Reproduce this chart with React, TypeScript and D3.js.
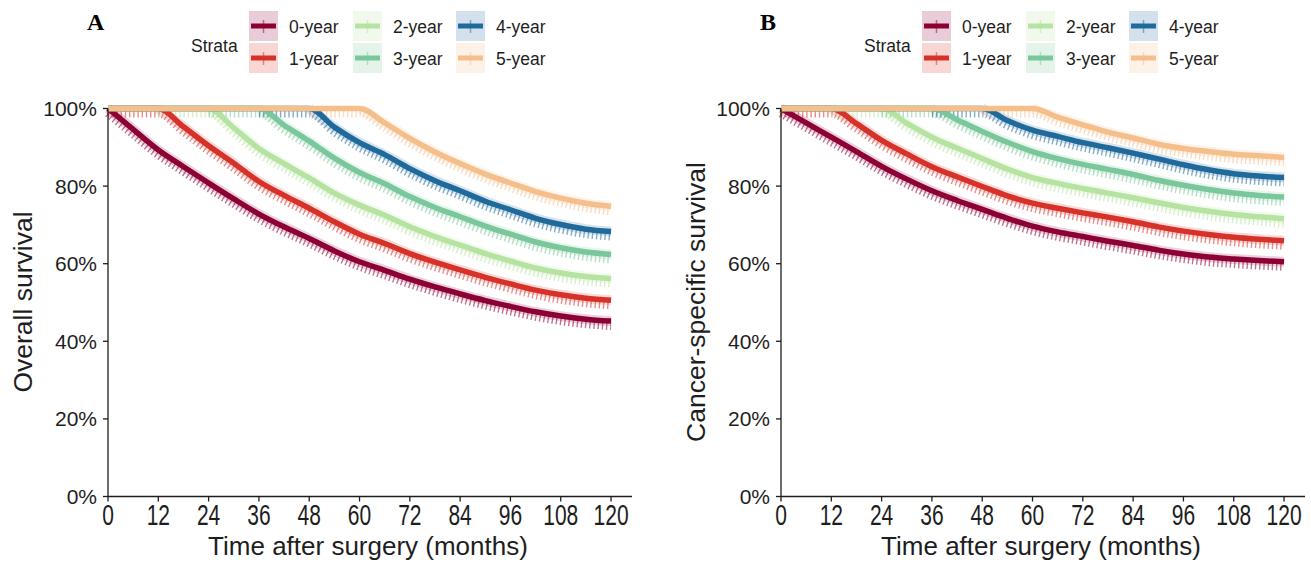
import React from "react";
import * as d3 from "d3";

// follow-up grid (months) used for every curve
const months = [0, 6, 12, 18, 24, 30, 36, 42, 48, 54, 60, 66, 72, 78, 84, 90, 96, 102, 108, 114, 120];

const strata = ["0-year", "1-year", "2-year", "3-year", "4-year", "5-year"];
const colors = ["#8C0036", "#D6322A", "#B6E3A1", "#7AC79C", "#1F6A9B", "#F5BF8C"];

// panel A: overall survival (%)
const overall0 = [100, 94.6, 89.3, 85, 80.8, 76.7, 72.8, 69.5, 66.5, 63.3, 60.5, 58.3, 56, 54, 52.2, 50.5, 49, 47.6, 46.5, 45.7, 45.2];
const overall1 = [100, 100, 100, 95.3, 90.4, 85.9, 81.2, 77.6, 74.3, 70.8, 67.6, 65.2, 62.6, 60.4, 58.4, 56.5, 54.8, 53.2, 52, 51.1, 50.6];
const overall2 = [100, 100, 100, 100, 100, 95, 89.7, 85.8, 82.1, 78.2, 75.1, 72.5, 69.5, 67, 64.8, 62.6, 60.7, 58.9, 57.6, 56.7, 56.2];
const overall3 = [100, 100, 100, 100, 100, 100, 100, 95.7, 91.6, 87.2, 83.5, 80.6, 77.3, 74.5, 72.1, 69.7, 67.6, 65.6, 64.1, 63, 62.4];
const overall4 = [100, 100, 100, 100, 100, 100, 100, 100, 100, 95.2, 91.2, 88.1, 84.5, 81.4, 78.8, 76.1, 73.9, 71.7, 70.1, 68.9, 68.3];
const overall5 = [100, 100, 100, 100, 100, 100, 100, 100, 100, 100, 100, 96.3, 92.3, 88.8, 85.8, 83.1, 80.8, 78.6, 76.9, 75.6, 74.8];

// panel B: cancer-specific survival (%)
const cancer0 = [100, 96.3, 92.6, 88.9, 85.1, 81.8, 78.8, 76.3, 74, 71.7, 69.7, 68.2, 67, 65.8, 64.7, 63.5, 62.5, 61.7, 61.2, 60.8, 60.5];
const cancer1 = [100, 100, 100, 96.1, 91.8, 88.3, 85, 82.4, 79.9, 77.5, 75.6, 74.3, 73.1, 72, 70.8, 69.5, 68.4, 67.5, 66.8, 66.3, 65.9];
const cancer2 = [100, 100, 100, 100, 100, 96.2, 92.6, 89.8, 87.1, 84.4, 82.2, 80.7, 79.4, 78.2, 77, 75.7, 74.5, 73.5, 72.7, 72.1, 71.6];
const cancer3 = [100, 100, 100, 100, 100, 100, 100, 97.1, 94.1, 91.3, 88.9, 87.1, 85.6, 84.3, 83, 81.5, 80.2, 79.1, 78.2, 77.6, 77.2];
const cancer4 = [100, 100, 100, 100, 100, 100, 100, 100, 100, 96.9, 94.4, 92.8, 91.2, 89.9, 88.5, 87, 85.5, 84.2, 83.2, 82.6, 82.2];
const cancer5 = [100, 100, 100, 100, 100, 100, 100, 100, 100, 100, 100, 97.8, 95.8, 93.9, 92.4, 90.8, 89.7, 88.9, 88.2, 87.8, 87.4];

// where censor marks / ribbons begin for each stratum (months)
const censorFrom = [0, 0, 12, 24, 36, 48];
const ribbonFrom = [0, 12, 24, 36, 48, 60];

const xTicks = [0, 12, 24, 36, 48, 60, 72, 84, 96, 108, 120];
const yTicks = [0, 20, 40, 60, 80, 100];

const sans = "'Liberation Sans', Arial, sans-serif";
const ink = "#1e1e1e";

type PanelProps = { label: string; yTitle: string; series: number[][]; dx: number };

const Panel = ({ label, yTitle, series, dx }: PanelProps) => {
  const x = d3.scaleLinear().domain([0, 125]).range([108, 632]);
  const y = d3.scaleLinear().domain([0, 100]).range([496.5, 108.5]);
  const line = d3
    .line<[number, number]>()
    .x((d) => x(d[0]))
    .y((d) => y(d[1]))
    .curve(d3.curveMonotoneX);

  const pts = series.map((vals) => months.map((m, i) => [m, vals[i]] as [number, number]));

  const legendCols = [249, 353, 456];
  const legendRows = [11, 43];

  return (
    <g transform={`translate(${dx},0)`}>
      <text x={87} y={30} fontFamily="'Liberation Serif', 'Times New Roman', serif" fontWeight="bold" fontSize={24} fill="#000">
        {label}
      </text>

      {/* legend */}
      <text x={191} y={52} fontFamily={sans} fontSize={17.5} fill={ink}>Strata</text>
      {strata.map((s, i) => {
        const cx = legendCols[Math.floor(i / 2)];
        const ry = legendRows[i % 2];
        const cy = ry + 15;
        return (
          <g key={s}>
            <rect x={cx} y={ry} width={29} height={30} fill={colors[i]} fillOpacity={0.2} />
            <line x1={cx + 2} x2={cx + 27} y1={cy} y2={cy} stroke={colors[i]} strokeWidth={5} />
            <line x1={cx + 14.5} x2={cx + 14.5} y1={cy - 6} y2={cy + 7} stroke={colors[i]} strokeOpacity={0.5} strokeWidth={1.5} />
            <text x={cx + 40} y={ry + 22} fontFamily={sans} fontSize={17.5} fill={ink}>{s}</text>
          </g>
        );
      })}

      {/* ribbons */}
      {pts.map((p, i) => (
        <path key={"r" + i} d={line(p.filter((d) => d[0] >= ribbonFrom[i])) || ""} fill="none"
          stroke={colors[i]} strokeOpacity={0.18} strokeWidth={10} />
      ))}
      {/* censor marks */}
      {pts.map((p, i) => (
        <path key={"c" + i} d={line(p.filter((d) => d[0] >= censorFrom[i])) || ""} fill="none"
          transform="translate(0,4.5)" stroke={colors[i]} strokeOpacity={0.55} strokeWidth={9}
          strokeDasharray="1.4 2.8" />
      ))}
      {/* survival curves */}
      {pts.map((p, i) => (
        <path key={"l" + i} d={line(p) || ""} fill="none" stroke={colors[i]} strokeWidth={5.5} />
      ))}

      {/* axes */}
      <line x1={x(0)} x2={x(0)} y1={y(100)} y2={y(0)} stroke={ink} strokeWidth={1.3} />
      <line x1={x(0)} x2={x(125)} y1={y(0)} y2={y(0)} stroke={ink} strokeWidth={1.3} />
      {yTicks.map((t) => (
        <g key={"y" + t}>
          <line x1={x(0) - 5} x2={x(0)} y1={y(t)} y2={y(t)} stroke={ink} strokeWidth={1.3} />
          <text x={97} y={y(t) + 7.5} textAnchor="end" fontFamily={sans} fontSize={21} fill={ink}>{t}%</text>
        </g>
      ))}
      {xTicks.map((t) => (
        <g key={"x" + t}>
          <line x1={x(t)} x2={x(t)} y1={y(0)} y2={y(0) + 5} stroke={ink} strokeWidth={1.3} />
          <text transform={`translate(${x(t)},525) scale(1,1.4)`} textAnchor="middle" fontFamily={sans}
            fontSize={21} fill={ink}>{t}</text>
        </g>
      ))}
      <text x={368} y={555} textAnchor="middle" fontFamily={sans} fontSize={26} fill={ink}>
        Time after surgery (months)
      </text>
      <text transform={`translate(32,302) rotate(-90)`} textAnchor="middle" fontFamily={sans} fontSize={26.5} fill={ink}>
        {yTitle}
      </text>
    </g>
  );
};

export default function App() {
  return (
    <svg width={1311} height={564} style={{ position: "absolute", left: 0, top: 0, background: "#fff" }}>
      <rect width={1311} height={564} fill="#fff" />
      <Panel label="A" yTitle="Overall survival" dx={0}
        series={[overall0, overall1, overall2, overall3, overall4, overall5]} />
      <Panel label="B" yTitle="Cancer-specific survival" dx={673}
        series={[cancer0, cancer1, cancer2, cancer3, cancer4, cancer5]} />
    </svg>
  );
}
